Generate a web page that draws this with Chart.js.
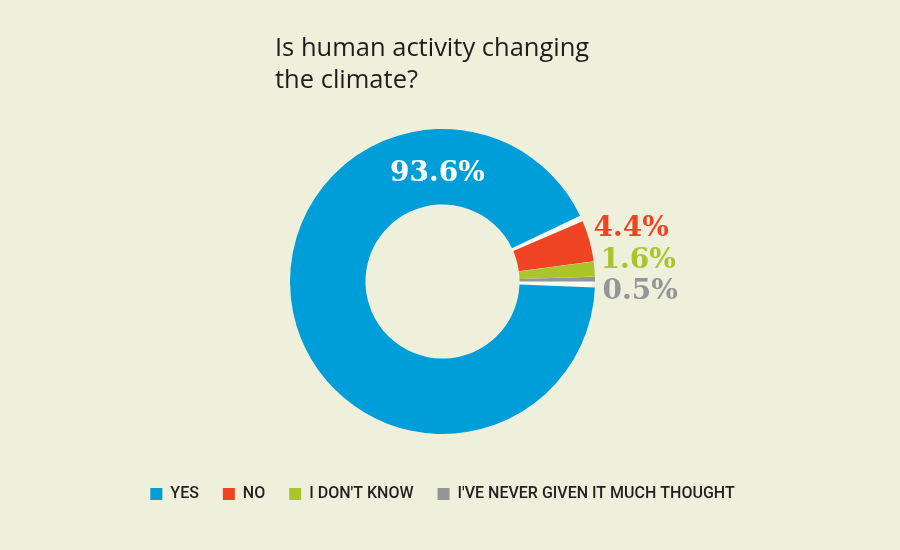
<!DOCTYPE html>
<html>
<head>
<meta charset="utf-8">
<script src="https://cdn.jsdelivr.net/npm/chart.js@4.4.1/dist/chart.umd.min.js"></script>
<style>
  html, body { margin: 0; padding: 0; background: #eef0dc; }
  #wrap { width: 900px; height: 550px; position: relative; }
</style>
</head>
<body>
<div id="wrap"><canvas id="climateChart" width="900" height="550"></canvas></div>
<script>
const answers = ['YES', 'NO', "I DON'T KNOW", "I'VE NEVER GIVEN IT MUCH THOUGHT"];
const shares = [93.6, 4.4, 1.6, 0.5];
const sliceColors = ['#009ed8', '#ee4423', '#a9c527', '#939598'];
const titleLines = ['Is human activity changing', 'the climate?'];

// where each percent label sits, relative to the doughnut centre
const labelSpots = [
    { dx: -5, dy: -108, align: 'center' },
    { dx: 151, dy: -53, align: 'left' },
    { dx: 158, dy: -21, align: 'left' },
    { dx: 160, dy: 10, align: 'left' }
];
const labelColors = ['#ffffff', '#ee4423', '#a9c527', '#939598'];

const titlePlugin = {
    id: 'leftTitle',
    afterDraw(chart) {
        const ctx = chart.ctx;
        ctx.save();
        ctx.fillStyle = '#1d1d1b';
        ctx.font = '25.5px "Open Sans"';
        ctx.textAlign = 'left';
        ctx.textBaseline = 'alphabetic';
        titleLines.forEach((line, i) => {
            ctx.fillText(line, 275, 56 + i * 32);
        });
        ctx.restore();
    }
};

// light ring behind the slices so the gaps between them read as white
const gapRingPlugin = {
    id: 'gapRing',
    beforeDatasetsDraw(chart) {
        const arc = chart.getDatasetMeta(0).data[0];
        if (!arc) return;
        const { x, y, innerRadius, outerRadius } = arc.getProps(['x', 'y', 'innerRadius', 'outerRadius'], true);
        const ctx = chart.ctx;
        ctx.save();
        ctx.fillStyle = '#fafbf2';
        ctx.beginPath();
        ctx.arc(x, y, outerRadius - 1.5, 0, Math.PI * 2);
        ctx.arc(x, y, innerRadius + 1.5, 0, Math.PI * 2, true);
        ctx.fill();
        ctx.restore();
    }
};

const percentPlugin = {
    id: 'percentLabels',
    afterDatasetsDraw(chart) {
        const ctx = chart.ctx;
        const arcs = chart.getDatasetMeta(0).data;
        ctx.save();
        ctx.font = 'bold 28px "DejaVu Serif"';
        ctx.textBaseline = 'middle';
        arcs.forEach((arc, i) => {
            const { x, y } = arc.getProps(['x', 'y'], true);
            const spot = labelSpots[i];
            ctx.fillStyle = labelColors[i];
            ctx.textAlign = spot.align;
            ctx.fillText(shares[i].toFixed(1) + '%', x + spot.dx, y + spot.dy);
        });
        ctx.restore();
    }
};

new Chart('climateChart', {
    type: 'doughnut',
    data: {
        labels: answers,
        datasets: [
            {
                data: shares,
                backgroundColor: sliceColors,
                borderWidth: 0,
                spacing: 3,
                hoverOffset: 0
            }
        ]
    },
    options: {
        responsive: false,
        animation: false,
        rotation: 90,
        radius: 151,
        cutout: '50%',
        layout: {
            padding: { top: 101, bottom: 38, left: 0, right: 15 }
        },
        plugins: {
            legend: {
                position: 'bottom',
                labels: {
                    boxWidth: 12,
                    boxHeight: 12,
                    padding: 24,
                    color: '#231f20',
                    font: { family: 'Roboto', size: 16, weight: '500' },
                    generateLabels(chart) {
                        const items = Chart.overrides.doughnut.plugins.legend.labels.generateLabels(chart);
                        items.forEach((item) => { item.lineWidth = 0; });
                        return items;
                    }
                }
            },
            tooltip: { enabled: false }
        }
    },
    plugins: [gapRingPlugin, titlePlugin, percentPlugin]
});
</script>
</body>
</html>
